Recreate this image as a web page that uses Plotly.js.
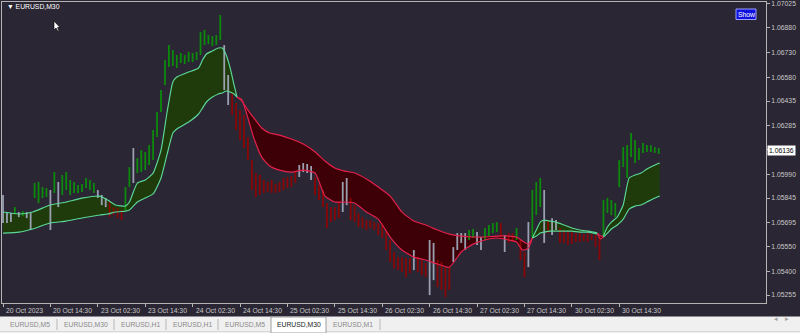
<!DOCTYPE html>
<html><head><meta charset="utf-8">
<script src="https://cdn.plot.ly/plotly-3.0.1.min.js"></script>
<style>html,body{margin:0;padding:0;background:#2a2633;overflow:hidden}#chart{width:800px;height:333px}</style>
</head><body><div id="chart"></div>
<script>
// ---- price bars (hourly sampling of the M30 chart), high / low and trend state ----
const highs = [1.05864,1.05760,1.05754,1.05790,1.05760,1.05766,1.05760,1.05754,1.05937,1.05943,
1.05912,1.05906,1.05894,1.06003,1.05943,1.05985,1.06003,1.05955,1.05943,1.05925,
1.05931,1.05967,1.05955,1.05937,1.05894,1.05864,1.05845,1.05821,1.05790,1.05784,
1.05772,1.05912,1.06033,1.06149,1.06088,1.06137,1.06125,1.06167,1.06259,1.06368,
1.06502,1.06684,1.06775,1.06745,1.06715,1.06727,1.06715,1.06733,1.06727,1.06733,
1.06855,1.06867,1.06836,1.06830,1.06836,1.06958,1.06775,1.06593,1.06484,1.06423,
1.06380,1.06350,1.06216,1.06076,1.05997,1.05985,1.05955,1.05943,1.05955,1.05931,
1.05943,1.05967,1.05973,1.05979,1.06003,1.06046,1.06058,1.06052,1.06040,1.05973,
1.05925,1.05894,1.05815,1.05790,1.05790,1.05821,1.05943,1.05967,1.05845,1.05802,
1.05754,1.05729,1.05711,1.05711,1.05699,1.05693,1.05681,1.05639,1.05590,1.05517,
1.05486,1.05486,1.05480,1.05480,1.05529,1.05486,1.05468,1.05450,1.05590,1.05572,
1.05468,1.05456,1.05425,1.05425,1.05547,1.05632,1.05632,1.05632,1.05651,1.05657,
1.05639,1.05608,1.05663,1.05681,1.05693,1.05699,1.05693,1.05620,1.05632,1.05632,
1.05663,1.05590,1.05517,1.05699,1.05894,1.05943,1.05967,1.05894,1.05711,1.05723,
1.05711,1.05663,1.05651,1.05639,1.05639,1.05632,1.05632,1.05626,1.05632,1.05626,
1.05620,1.05608,1.05833,1.05845,1.05833,1.05815,1.06076,1.06155,1.06167,1.06240,
1.06198,1.06149,1.06179,1.06167,1.06167,1.06155,1.06149];
const lows = [1.05693,1.05693,1.05699,1.05748,1.05729,1.05735,1.05723,1.05651,1.05845,1.05815,
1.05845,1.05851,1.05651,1.05876,1.05790,1.05864,1.05894,1.05864,1.05876,1.05876,
1.05882,1.05906,1.05894,1.05876,1.05845,1.05802,1.05790,1.05729,1.05741,1.05723,
1.05711,1.05772,1.05912,1.05937,1.05997,1.06003,1.06015,1.06046,1.06076,1.06216,
1.06368,1.06532,1.06642,1.06648,1.06636,1.06666,1.06660,1.06672,1.06672,1.06684,
1.06715,1.06775,1.06781,1.06769,1.06775,1.06806,1.06502,1.06411,1.06350,1.06259,
1.06198,1.06149,1.06076,1.05894,1.05851,1.05864,1.05876,1.05882,1.05876,1.05876,
1.05882,1.05894,1.05906,1.05912,1.05937,1.05973,1.06003,1.05997,1.05955,1.05864,
1.05833,1.05790,1.05663,1.05699,1.05711,1.05723,1.05760,1.05802,1.05711,1.05699,
1.05669,1.05663,1.05651,1.05663,1.05651,1.05620,1.05602,1.05529,1.05456,1.05419,
1.05407,1.05395,1.05364,1.05389,1.05407,1.05395,1.05377,1.05364,1.05255,1.05346,
1.05304,1.05286,1.05243,1.05286,1.05456,1.05529,1.05572,1.05529,1.05590,1.05602,
1.05559,1.05529,1.05590,1.05614,1.05632,1.05639,1.05608,1.05517,1.05572,1.05578,
1.05590,1.05468,1.05364,1.05425,1.05608,1.05741,1.05790,1.05572,1.05632,1.05620,
1.05651,1.05572,1.05572,1.05559,1.05565,1.05578,1.05578,1.05584,1.05578,1.05590,
1.05547,1.05468,1.05608,1.05754,1.05741,1.05729,1.05912,1.06033,1.05967,1.06094,
1.06058,1.06076,1.06119,1.06125,1.06125,1.06119,1.06113];
const trend = ['n','n','n','u','n','u','n','n','u','u','u','u','n','u','n','u','u','u','u','u',
'u','u','u','u','n','n','n','d','d','d','d','u','u','n','u','u','u','u','u','u',
'u','u','u','u','u','u','u','u','u','u','u','u','u','u','u','u','n','n','d','d',
'd','d','d','d','d','d','d','d','d','d','d','d','d','d','d','n','n','n','n','d',
'd','d','d','d','d','d','n','n','d','d','d','d','d','d','d','d','d','d','d','d',
'd','d','d','d','n','d','d','d','n','n','d','d','d','d','n','n','n','n','u','u',
'n','n','u','u','u','u','d','n','d','d','u','d','d','n','u','u','u','n','d','n',
'n','d','d','d','d','d','d','d','d','d','d','d','u','u','u','u','u','u','u','u',
'u','u','u','u','u','u','u'];

// ---- tick labels ----
const timeLabels = ['20 Oct 2023','20 Oct 14:30','23 Oct 02:30','23 Oct 14:30','24 Oct 02:30','24 Oct 14:30',
'25 Oct 02:30','25 Oct 14:30','26 Oct 02:30','26 Oct 14:30','27 Oct 02:30','27 Oct 14:30','30 Oct 02:30','30 Oct 14:30'];
const priceTicks = [1.07025,1.06880,1.06730,1.06580,1.06435,1.06285,1.06140,1.05990,1.05845,1.05695,1.05550,1.05400,1.05255];
const lastPrice = 1.06136;
const tabs = ['EURUSD,M5','EURUSD,M30','EURUSD,H1','EURUSD,H1','EURUSD,M5','EURUSD,M30','EURUSD,M1'];
const activeTab = 5;

// ---- band segments (x = M30 bar index) ----
const upA_x = [0,8,15,24,32,40,49,53,57,62,64,68,72,76,80,83,86,88,94,99,101,103,106,109,111,113,115,117,118.5];
const upA_hi = [1.05760,1.05748,1.05760,1.05803,1.05821,1.05845,1.05857,1.05833,1.05803,1.05796,1.05821,1.05936,1.05955,1.05997,1.06137,1.06362,1.06551,1.06581,1.06611,1.06636,1.06684,1.06721,1.06739,1.06757,1.06757,1.06715,1.06636,1.06532,1.06459];
const upA_lo = [1.05632,1.05638,1.05657,1.05693,1.05705,1.05724,1.05742,1.05748,1.05760,1.05766,1.05772,1.05821,1.05845,1.05870,1.05967,1.06107,1.06240,1.06265,1.06307,1.06356,1.06392,1.06429,1.06459,1.06478,1.06484,1.06496,1.06490,1.06478,1.06459];
const dnA_x = [118.5,121,124,127,131,135,140,146,152,158,163,168,173,178,184,190,196,202,208,214,220,226,232,238,244,250,256,260,263,266,268];
const dnA_hi = [1.06459,1.06435,1.06380,1.06332,1.06271,1.06240,1.06228,1.06204,1.06173,1.06125,1.06070,1.06028,1.06009,1.05997,1.05961,1.05912,1.05857,1.05760,1.05705,1.05681,1.05651,1.05626,1.05614,1.05608,1.05608,1.05614,1.05614,1.05608,1.05584,1.05565,1.05602];
const dnA_lo = [1.06459,1.06441,1.06332,1.06210,1.06094,1.06040,1.06015,1.06003,1.06015,1.05997,1.05857,1.05821,1.05821,1.05815,1.05760,1.05717,1.05608,1.05529,1.05486,1.05468,1.05444,1.05425,1.05517,1.05565,1.05590,1.05602,1.05590,1.05578,1.05529,1.05541,1.05602];
const upB_x = [268,270,272,274,277,280,284,288,292,296,299,301];
const upB_hi = [1.05602,1.05651,1.05699,1.05711,1.05705,1.05699,1.05681,1.05663,1.05651,1.05644,1.05638,1.05632];
const upB_lo = [1.05602,1.05614,1.05632,1.05638,1.05644,1.05644,1.05644,1.05644,1.05638,1.05638,1.05632,1.05626];
const dnB_x = [301,302.5,304];
const dnB_hi = [1.05632,1.05614,1.05614];
const dnB_lo = [1.05626,1.05596,1.05608];
const upC_x = [304,306,308,311,314,317,320,323,326,329,332.5];
const upC_hi = [1.05614,1.05669,1.05699,1.05730,1.05803,1.05967,1.05985,1.05997,1.06021,1.06040,1.06058];
const upC_lo = [1.05608,1.05632,1.05657,1.05681,1.05717,1.05778,1.05796,1.05803,1.05821,1.05839,1.05857];

// ---- styling ----
const BG = '#2a2633';
const FRAME = '#b4b4b4';
const TXT = '#c8c8c8';
const FONT = 'Liberation Sans, Arial, sans-serif';
const UP = {fill:'#1f3a0b', line:'#5cd898', bar:'#0c8a0c'};
const DN = {fill:'#3c0006', line:'#e8204c', bar:'#8a0606'};
const NT_BAR = '#9aa0b2';

const traces = [];
function band(x, hi, lo, st){
  traces.push({x:x, y:lo, type:'scatter', mode:'lines', line:{width:0, shape:'spline', smoothing:0.5}, hoverinfo:'skip', showlegend:false});
  traces.push({x:x, y:hi, type:'scatter', mode:'lines', fill:'tonexty', fillcolor:st.fill, line:{width:0, shape:'spline', smoothing:0.5}, hoverinfo:'skip', showlegend:false});
}
const segs = [[upA_x,upA_hi,upA_lo,UP],[dnA_x,dnA_hi,dnA_lo,DN],[upB_x,upB_hi,upB_lo,UP],[dnB_x,dnB_hi,dnB_lo,DN],[upC_x,upC_hi,upC_lo,UP]];
segs.forEach(s=>band(s[0],s[1],s[2],s[3]));

// bars as vertical segments
const groups = {u:{x:[],y:[],c:UP.bar}, d:{x:[],y:[],c:DN.bar}, n:{x:[],y:[],c:NT_BAR}};
highs.forEach((h,k)=>{
  const g = groups[trend[k]];
  const xi = k*2;
  g.x.push(xi,xi,null); g.y.push(lows[k],h,null);
});
['u','d','n'].forEach(key=>{
  const g = groups[key];
  traces.push({x:g.x, y:g.y, type:'scatter', mode:'lines', line:{color:g.c, width:1.8}, connectgaps:false, hoverinfo:'skip', showlegend:false});
});

// band lines on top
segs.forEach(s=>{
  [s[1],s[2]].forEach(arr=>traces.push({x:s[0], y:arr, type:'scatter', mode:'lines', line:{color:s[3].line, width:1.15, shape:'spline', smoothing:0.5}, hoverinfo:'skip', showlegend:false}));
});

// ---- pixel helpers for decorations ----
const L=2, R=766, T=2, B=303;
const px = X => (X-L)/(R-L);
const py = Y => (B-Y)/(B-T);

const tickIdx = timeLabels.map((_,i)=>i*24);
const annotations = [];
timeLabels.forEach((t,i)=>annotations.push({x:tickIdx[i], xref:'x', y:py(310), yref:'paper', text:t, showarrow:false, xanchor:'left', yanchor:'middle', xshift:1, font:{family:FONT, size:6.8, color:TXT}}));
annotations.push({x:1, xref:'paper', y:lastPrice, yref:'y', text:lastPrice.toFixed(5), showarrow:false, xanchor:'left', yanchor:'middle', xshift:1, bgcolor:'#ffffff', borderpad:1, font:{family:FONT, size:6.8, color:'#000000'}});
annotations.push({x:px(5), xref:'paper', y:py(7), yref:'paper', text:'\u25BC EURUSD,M30', showarrow:false, xanchor:'left', yanchor:'middle', font:{family:FONT, size:6.8, color:'#ffffff'}});
annotations.push({x:px(746), xref:'paper', y:py(14.5), yref:'paper', text:'Show', showarrow:false, xanchor:'center', yanchor:'middle', font:{family:FONT, size:6.8, color:'#ffffff'}});

const shapes = [];
// tab bar
shapes.push({type:'rect', xref:'paper', yref:'paper', x0:px(0), x1:px(800), y0:py(316.5), y1:py(334), fillcolor:'#f0f0f0', line:{width:0}, layer:'above'});
shapes.push({type:'line', xref:'paper', yref:'paper', x0:px(0), x1:px(800), y0:py(331.5), y1:py(331.5), line:{color:'#d8d8d8', width:1}, layer:'above'});
const tabEdges = [3,57,114,166,218,271,326,380];
tabs.forEach((t,i)=>{
  const c = (tabEdges[i]+tabEdges[i+1])/2;
  if(i===activeTab){
    shapes.push({type:'rect', xref:'paper', yref:'paper', x0:px(tabEdges[i]), x1:px(tabEdges[i+1]), y0:py(333), y1:py(317), fillcolor:'#ffffff', line:{color:'#a0a0a0', width:1}, layer:'above'});
  }
  annotations.push({x:px(c), xref:'paper', y:py(324.5), yref:'paper', text:t, showarrow:false, xanchor:'center', yanchor:'middle', font:{family:FONT, size:6.8, color: i===activeTab ? '#202020' : '#8a8a8a'}});
});
[57,114,166,218,380].forEach(e=>shapes.push({type:'line', xref:'paper', yref:'paper', x0:px(e), x1:px(e), y0:py(319), y1:py(330), line:{color:'#b8b8b8', width:1}, layer:'above'}));
annotations.push({x:px(780), xref:'paper', y:py(324.5), yref:'paper', text:'\u25C2', showarrow:false, font:{family:'DejaVu Sans', size:7, color:'#a0a0a0'}});
annotations.push({x:px(791), xref:'paper', y:py(324.5), yref:'paper', text:'\u25B8', showarrow:false, font:{family:'DejaVu Sans', size:7, color:'#a0a0a0'}});
// show button
shapes.push({type:'rect', xref:'paper', yref:'paper', x0:px(736), x1:px(756), y0:py(19.5), y1:py(9), fillcolor:'#1010e0', line:{color:'#9aa0ff', width:1}, layer:'below'});
// mouse cursor
const cur = [[54,21],[54,30],[56,28],[58,31.5],[59,31],[57.5,27.5],[60,27.5]];
shapes.push({type:'path', xref:'paper', yref:'paper', layer:'above',
  path:'M'+cur.map(p=>px(p[0])+','+py(p[1])).join(' L')+' Z', fillcolor:'#ffffff', line:{color:'#000000', width:0.6}});

const layout = {
  width:800, height:333,
  margin:{l:L, r:800-R, t:T, b:333-B, pad:0},
  paper_bgcolor:BG, plot_bgcolor:BG,
  showlegend:false,
  xaxis:{range:[-0.506,386.3], showgrid:false, zeroline:false, showline:true, mirror:true, linecolor:FRAME, linewidth:1,
         ticks:'outside', ticklen:3, tickcolor:FRAME, tickvals:tickIdx, showticklabels:false, fixedrange:true, automargin:false},
  yaxis:{side:'right', range:[1.05207,1.07037], showgrid:false, zeroline:false, showline:true, mirror:true, linecolor:FRAME, linewidth:1,
         ticks:'outside', ticklen:3, tickcolor:FRAME, tickvals:priceTicks,
         ticktext:priceTicks.map(v=>Math.abs(v-lastPrice)<0.0001 ? '' : v.toFixed(5)),
         tickfont:{family:FONT, size:6.8, color:TXT}, fixedrange:true, automargin:false},
  annotations:annotations, shapes:shapes
};
Plotly.newPlot('chart', traces, layout, {displayModeBar:false, staticPlot:true});
</script></body></html>
